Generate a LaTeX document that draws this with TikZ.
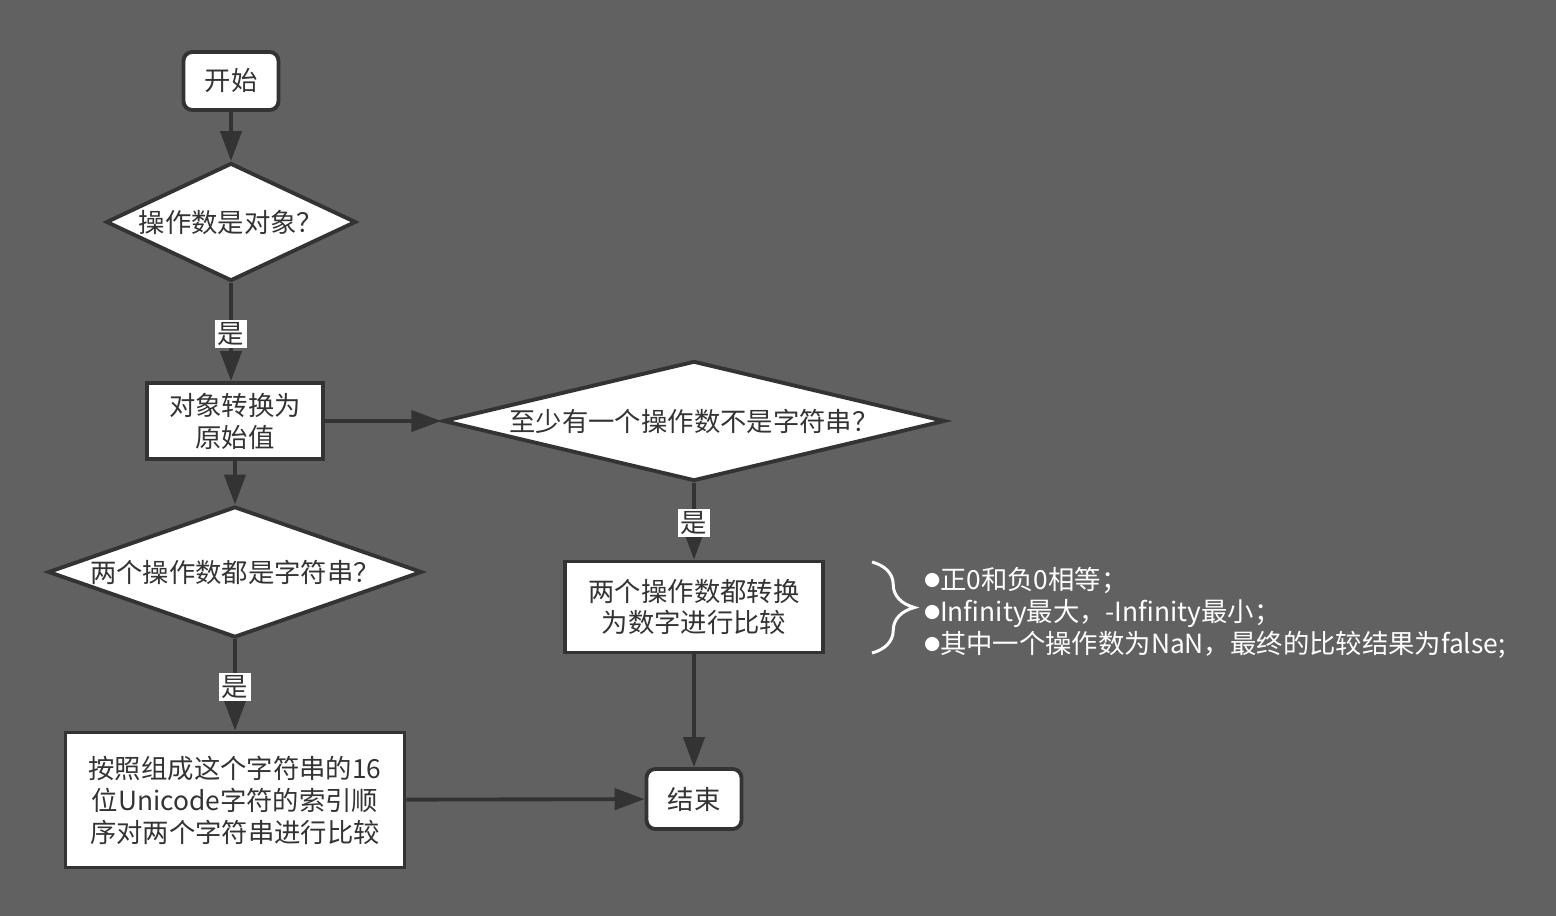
\documentclass[tikz,border=0pt]{standalone}
\usepackage{fontspec}
\setmainfont{Noto Sans CJK SC}
\usetikzlibrary{positioning,calc,shapes.geometric,arrows.meta,decorations.pathreplacing}
\definecolor{bgc}{HTML}{616161}
\definecolor{inkc}{HTML}{333333}
\tikzset{
	flow/.style = {-{Triangle[length=17pt,width=12pt]}, line width=2.2pt, draw=inkc}, % connector between the steps
	term/.style = {rectangle, rounded corners=5pt, draw=inkc, line width=2.2pt, fill=white, text=inkc, align=center}, % start and end
	proc/.style = {rectangle, draw=inkc, line width=2.2pt, fill=white, text=inkc, align=center, inner sep=0pt},
	decision/.style = {diamond, draw=inkc, line width=2.2pt, fill=white, inner sep=0pt}, % text is put in as a label
	dtext/.style = {text=inkc, inner sep=0pt},
	yes/.style = {fill=white, text=inkc, inner sep=1.5pt, pos=.52}
}
\newcommand{\notedot}{\raisebox{0.12em}{\fontsize{9}{9}\selectfont ●}}

\begin{document}
\begin{tikzpicture}[x=0.02cm, y=-0.02cm, font=\fontsize{15}{18.2}\selectfont]
	\fill[bgc] (0,0) rectangle (1556,916);
	\useasboundingbox (0,0) rectangle (1556,916);
	% left column
	\node[term, minimum width=1.9cm, minimum height=1.16cm] (start) at (231,81) {开始};
	\node[decision, minimum width=5cm, minimum height=2.36cm, label={[dtext]center:操作数是对象？}] (isobj) at (231,222) {};
	\node[proc, minimum width=3.52cm, minimum height=1.52cm] (toprim) at (235,421) {对象转换为\\原始值};
	\node[decision, minimum width=7.48cm, minimum height=2.62cm, label={[dtext]center:两个操作数都是字符串？}] (bothstr) at (235,572) {};
	\node[proc, minimum width=6.78cm, minimum height=2.7cm] (bycode) at (235,800) {按照组成这个字符串的16\\位Unicode字符的索引顺\\序对两个字符串进行比较};
	% right column
	\node[decision, minimum width=10.04cm, minimum height=2.4cm, label={[dtext]center:至少有一个操作数不是字符串？}] (notstr) at (694,421) {};
	\node[proc, minimum width=5.16cm, minimum height=1.82cm] (tonum) at (694,607) {两个操作数都转换\\为数字进行比较};
	\node[term, minimum width=1.9cm, minimum height=1.2cm] (end) at (694,799) {结束};
	% note beside the number comparison
	\coordinate (bracetop) at (872,562);
	\coordinate (bracebot) at (872,653);
	\node[text=white, align=left, anchor=west, inner sep=0pt] (notes) at (924,613) {\notedot 正0和负0相等；\\\notedot Infinity最大，-Infinity最小；\\\notedot 其中一个操作数为NaN，最终的比较结果为false;};

	\draw[flow] (start) -- (isobj);
	\draw[flow] (isobj.south) -- node[yes] {是} (isobj.south |- toprim.north);
	\draw[flow] (toprim) -- (notstr);
	\draw[flow] (toprim) -- (bothstr);
	\draw[flow] (bothstr) -- node[yes] {是} (bycode);
	\draw[flow] (notstr) -- node[yes] {是} (tonum);
	\draw[flow] (tonum) -- (end);
	\draw[flow] (bycode) -- (end);
	\draw[white, line width=1.7pt, decorate, decoration={brace, amplitude=0.85cm}] (bracetop) -- (bracebot);
\end{tikzpicture}
\end{document}
